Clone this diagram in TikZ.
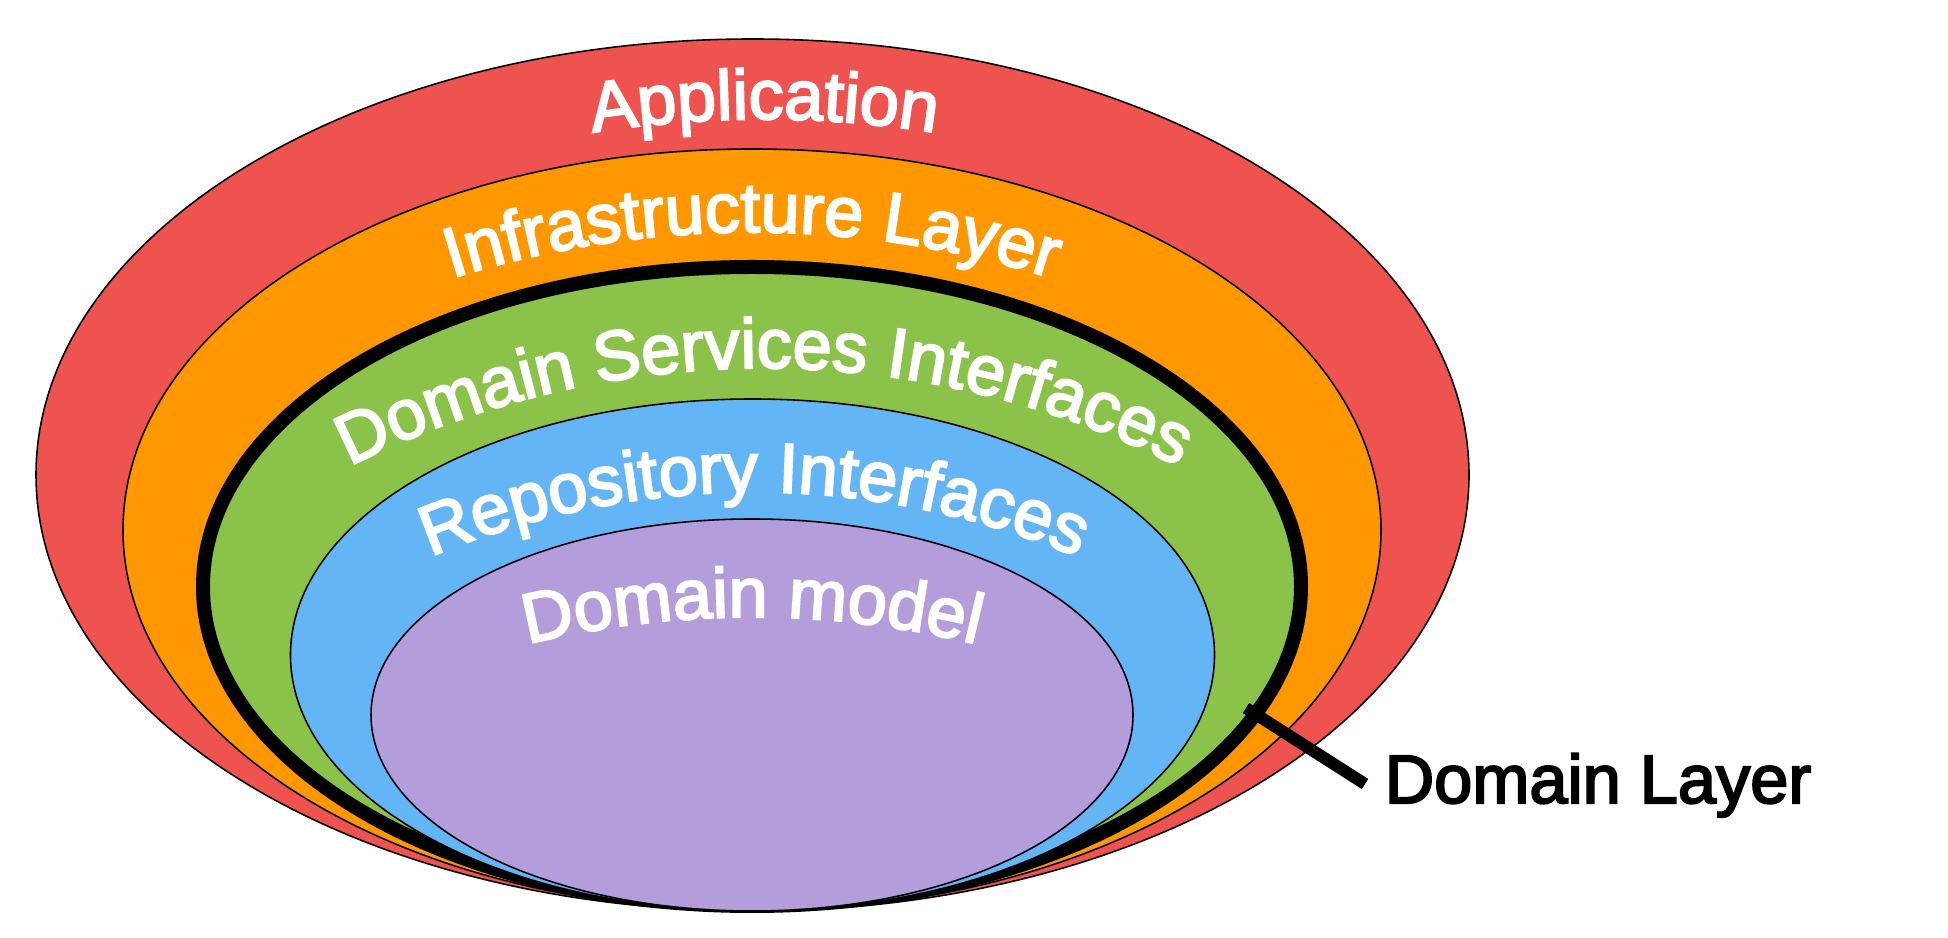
\documentclass[tikz,border=0pt]{standalone}
\usepackage{fontspec}
\setmainfont{Liberation Sans}
\newfontfamily\lblfont{Liberation Sans}[FakeBold=3]
\usetikzlibrary{decorations.text}
\definecolor{appred}{HTML}{EF5350}
\definecolor{infraorange}{HTML}{FF9800}
\definecolor{domgreen}{HTML}{8BC34A}
\definecolor{repoblue}{HTML}{64B5F6}
\definecolor{modelpurple}{HTML}{B39DDB}
\newcommand\arctextfmt{\lblfont\fontsize{20}{24}\selectfont\color{white}}
\begin{document}
\begin{tikzpicture}[
  ring/.style={draw=black, line width=0.45pt},
  domring/.style={draw=black, line width=0.14cm},
  arctext/.style={decorate, decoration={text along path, text align=center, text={|\arctextfmt|#1}}},
  pointer/.style={draw=black, line width=0.12cm},
  sidelabel/.style={font=\lblfont\fontsize{19.5}{23}\selectfont, text=black, inner sep=0pt, anchor=base west},
]
\useasboundingbox (0,0) rectangle (19.48,9.38);

% layers
\path[ring, fill=appred] (7.525,4.63) ellipse[x radius=7.165, y radius=4.36];
\path[ring, fill=infraorange] (7.52,4.08) ellipse[x radius=6.29, y radius=3.81];
\path[domring, fill=domgreen] (7.52,3.515) ellipse[x radius=5.49, y radius=3.195];
\path[ring, fill=repoblue] (7.525,2.83) ellipse[x radius=4.62, y radius=2.56];
\path[ring, fill=modelpurple] (7.52,2.23) ellipse[x radius=3.81, y radius=1.96];

% curved labels
\path[arctext=Application] (7.64,-2.69) ++(130:10.88) arc[start angle=130, end angle=50, radius=10.88];
\path[arctext=Infrastructure Layer] (7.52,-2.90) ++(130:9.96) arc[start angle=130, end angle=50, radius=9.96];
\path[arctext=Domain Services Interfaces] (7.64,-3.50) ++(135:9.20) arc[start angle=135, end angle=45, radius=9.20];
\path[arctext=Repository Interfaces] (7.54,-3.91) ++(135:8.37) arc[start angle=135, end angle=45, radius=8.37];
\path[arctext=Domain model] (7.52,-6.22) ++(130:9.43) arc[start angle=130, end angle=50, radius=9.43];

% domain layer pointer
\node[sidelabel] (dl) at (13.84,1.35) {Domain Layer};
\coordinate (dlstart) at (12.46,2.30);
\coordinate (dlend) at (13.65,1.54);
\draw[pointer] (dlstart) -- (dlend);
\end{tikzpicture}
\end{document}
